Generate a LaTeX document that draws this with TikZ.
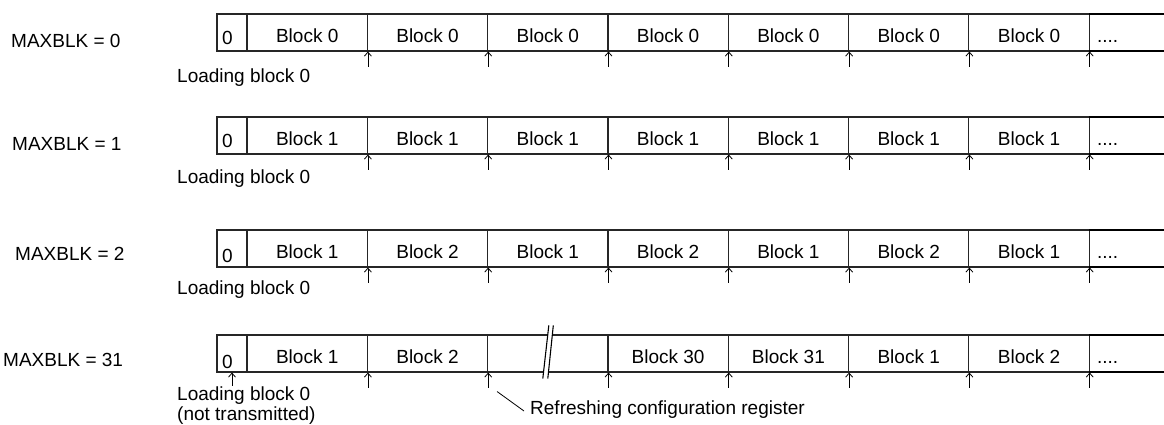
\documentclass[tikz,border=0pt]{standalone}
\usepackage{fontspec}
\setmainfont{Liberation Sans}
\usetikzlibrary{arrows.meta,calc,positioning}

\begin{document}
\begin{tikzpicture}
    [x=1pt,y=-1pt,
    font=\fontsize{19}{20}\selectfont,
    cell/.style={
      rectangle,
      draw=black!85,
      line width=1.1pt,
      minimum width=120.3pt,
      minimum height=37pt,
      inner sep=0pt,
      text height=19pt,
      text depth=0pt
    },
    zero/.style={
      cell,
      minimum width=30pt,
      text width=20pt,
      align=left,
      text height=23pt
    },
    dots/.style={
      rectangle,
      minimum width=78pt,
      minimum height=37pt,
      inner sep=0pt,
      text width=62pt,
      align=left,
      text height=19pt,
      text depth=0pt
    },
    heavy/.style={
      draw=black,
      line width=2.2pt
    },
    tick/.style={
      draw,
      line width=0.8pt,
      -{Straight Barb[length=4pt,width=7pt]}
    },
    note/.style={
      inner sep=0pt,
      anchor=base west
    }
  ]
    \useasboundingbox (0,0) rectangle (1164,424);

    \draw (11,47) node[note] (M0) {MAXBLK = 0};
    \draw (12,150) node[note] (M1) {MAXBLK = 1};
    \draw (15,260.5) node[note] (M2) {MAXBLK = 2};
    \draw (3,366) node[note] (M31) {MAXBLK = 31};

    \path (232,32.5) node[zero] (A0) {0}
          (307.2,32.5) node[cell] (A1) {Block 0}
          (427.5,32.5) node[cell] (A2) {Block 0}
          (547.8,32.5) node[cell] (A3) {Block 0}
          (668.1,32.5) node[cell] (A4) {Block 0}
          (788.4,32.5) node[cell] (A5) {Block 0}
          (908.7,32.5) node[cell] (A6) {Block 0}
          (1029,32.5) node[cell] (A7) {Block 0}
          (1128.1,32.5) node[dots] (A8) {....};
    \path (232,135.5) node[zero] (B0) {0}
          (307.2,135.5) node[cell] (B1) {Block 1}
          (427.5,135.5) node[cell] (B2) {Block 1}
          (547.8,135.5) node[cell] (B3) {Block 1}
          (668.1,135.5) node[cell] (B4) {Block 1}
          (788.4,135.5) node[cell] (B5) {Block 1}
          (908.7,135.5) node[cell] (B6) {Block 1}
          (1029,135.5) node[cell] (B7) {Block 1}
          (1128.1,135.5) node[dots] (B8) {....};
    \path (232,248.5) node[zero,text height=27pt] (C0) {0}
          (307.2,248.5) node[cell] (C1) {Block 1}
          (427.5,248.5) node[cell] (C2) {Block 2}
          (547.8,248.5) node[cell] (C3) {Block 1}
          (668.1,248.5) node[cell] (C4) {Block 2}
          (788.4,248.5) node[cell] (C5) {Block 1}
          (908.7,248.5) node[cell] (C6) {Block 2}
          (1029,248.5) node[cell] (C7) {Block 1}
          (1128.1,248.5) node[dots] (C8) {....};
    \path (232,353.5) node[zero,text height=29pt] (D0) {0}
          (307.2,353.5) node[cell] (D1) {Block 1}
          (427.5,353.5) node[cell] (D2) {Block 2}
          (547.8,353.5) node[cell] (D3) {}
          (668.1,353.5) node[cell] (D4) {Block 30}
          (788.4,353.5) node[cell] (D5) {Block 31}
          (908.7,353.5) node[cell] (D6) {Block 1}
          (1029,353.5) node[cell] (D7) {Block 2}
          (1128.1,353.5) node[dots] (D8) {....};

    \draw[heavy] (A8.north west) -- (A8.north east) (A8.south west) -- (A8.south east);
    \draw[heavy] (B8.north west) -- (B8.north east) (B8.south west) -- (B8.south east);
    \draw[heavy] (C8.north west) -- (C8.north east) (C8.south west) -- (C8.south east);
    \draw[heavy] (D8.north west) -- (D8.north east) (D8.south west) -- (D8.south east);

    \fill[white] ([shift={(1,-9)}]D3.north) -- ([shift={(5.5,-9)}]D3.north)
          -- ([shift={(0,6)}]D3.south) -- ([shift={(-5,6)}]D3.south) -- cycle;
    \draw[line width=1.1pt] ([shift={(1,-9)}]D3.north) -- ([shift={(-5,6)}]D3.south)
          ([shift={(5.5,-9)}]D3.north) -- ([shift={(0,6)}]D3.south);

    \draw (177,82) node[note] (L0) {Loading block 0};
    \draw (177,183) node[note] (L1) {Loading block 0};
    \draw (177,294.5) node[note] (L2) {Loading block 0};
    \draw (177,420) node[note,align=left] (L31) {Loading block 0\\(not transmitted)};
    \draw (530,414) node[note] (RF) {Refreshing configuration register};
    \coordinate (R) at ([shift={(10,19)}]D3.south west);
    \draw[line width=0.8pt] (R) -- ([shift={(-6,-3)}]RF.base west);

    \draw[tick] ([shift={(0,15)}]A1.south east) -- (A1.south east);
    \draw[tick] ([shift={(0,15)}]A2.south east) -- (A2.south east);
    \draw[tick] ([shift={(0,15)}]A3.south east) -- (A3.south east);
    \draw[tick] ([shift={(0,15)}]A4.south east) -- (A4.south east);
    \draw[tick] ([shift={(0,15)}]A5.south east) -- (A5.south east);
    \draw[tick] ([shift={(0,15)}]A6.south east) -- (A6.south east);
    \draw[tick] ([shift={(0,15)}]A7.south east) -- (A7.south east);

    \draw[tick] ([shift={(0,15)}]B1.south east) -- (B1.south east);
    \draw[tick] ([shift={(0,15)}]B2.south east) -- (B2.south east);
    \draw[tick] ([shift={(0,15)}]B3.south east) -- (B3.south east);
    \draw[tick] ([shift={(0,15)}]B4.south east) -- (B4.south east);
    \draw[tick] ([shift={(0,15)}]B5.south east) -- (B5.south east);
    \draw[tick] ([shift={(0,15)}]B6.south east) -- (B6.south east);
    \draw[tick] ([shift={(0,15)}]B7.south east) -- (B7.south east);

    \draw[tick] ([shift={(0,15)}]C1.south east) -- (C1.south east);
    \draw[tick] ([shift={(0,15)}]C2.south east) -- (C2.south east);
    \draw[tick] ([shift={(0,15)}]C3.south east) -- (C3.south east);
    \draw[tick] ([shift={(0,15)}]C4.south east) -- (C4.south east);
    \draw[tick] ([shift={(0,15)}]C5.south east) -- (C5.south east);
    \draw[tick] ([shift={(0,15)}]C6.south east) -- (C6.south east);
    \draw[tick] ([shift={(0,15)}]C7.south east) -- (C7.south east);

    \draw[tick] ([shift={(0,13)}]D0.south) -- (D0.south);
    \draw[tick] ([shift={(0,15)}]D1.south east) -- (D1.south east);
    \draw[tick] ([shift={(0,15)}]D2.south east) -- (D2.south east);
    \draw[tick] ([shift={(0,15)}]D3.south east) -- (D3.south east);
    \draw[tick] ([shift={(0,15)}]D4.south east) -- (D4.south east);
    \draw[tick] ([shift={(0,15)}]D5.south east) -- (D5.south east);
    \draw[tick] ([shift={(0,15)}]D6.south east) -- (D6.south east);
    \draw[tick] ([shift={(0,15)}]D7.south east) -- (D7.south east);
\end{tikzpicture}
\end{document}
